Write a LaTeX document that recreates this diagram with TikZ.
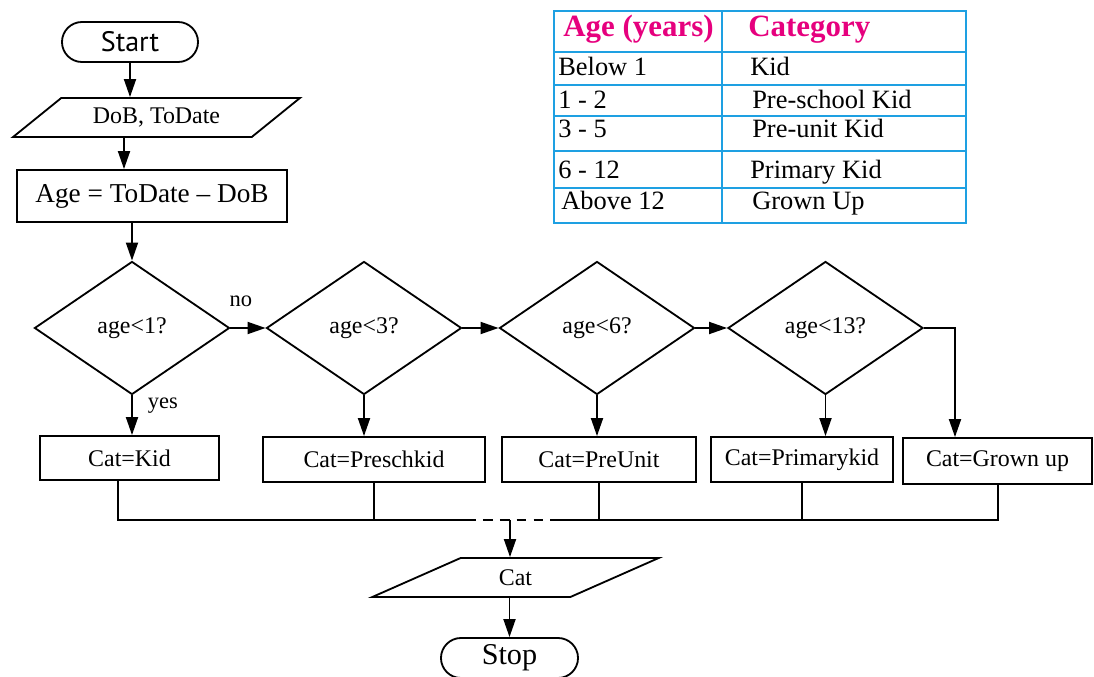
\documentclass[tikz,border=0pt]{standalone}
\usepackage{fontspec}
\setmainfont{Liberation Serif}
\newfontfamily\termfont{PT Sans}
\usetikzlibrary{arrows.meta,positioning,calc,shapes.geometric,shapes.misc}
\definecolor{tblline}{RGB}{30,160,226}
\definecolor{headpink}{RGB}{230,0,126}

\begin{document}
\begin{tikzpicture}[x=0.025cm,y=-0.025cm,>={Triangle[length=4.5mm,width=3mm]},
  flow/.style={line width=1.3pt},
  term/.style={draw,line width=1.3pt,rounded rectangle,minimum width=3.4cm,minimum height=1cm,inner sep=0pt},
  io/.style={draw,line width=1.3pt,trapezium,trapezium left angle=31,trapezium right angle=149,trapezium stretches=true,minimum width=7.175cm,minimum height=0.975cm,inner sep=0pt,font=\fontsize{17}{19}\selectfont},
  decision/.style={draw,line width=1.3pt,diamond,aspect=1.466,minimum width=4.875cm,minimum height=3.325cm,inner sep=0pt,font=\fontsize{17}{19}\selectfont},
  catbox/.style={draw,line width=1.3pt,minimum height=1.125cm,inner sep=0pt,font=\fontsize{17}{19}\selectfont},
  edgelabel/.style={inner sep=0pt,font=\fontsize{16}{18}\selectfont},
  tbl/.style={line width=2pt,tblline},
  tblhead/.style={anchor=base west,inner sep=0pt,headpink,font=\fontsize{22}{24}\selectfont\bfseries},
  tblcell/.style={anchor=base west,inner sep=0pt,font=\fontsize{18.8}{21}\selectfont}]
  \useasboundingbox (0,0) rectangle (1094,677);

  % age table
  \draw[tbl] (554,11) rectangle (966,223) (722,11) -- (722,223)
    (554,52) -- (966,52) (554,85) -- (966,85) (554,116) -- (966,116)
    (554,151) -- (966,151) (554,188) -- (966,188);
  \node[tblhead] (hage) at (563,36) {Age (years)};
  \node[tblhead] (hcat) at (748,36) {Category};
  \node[tblcell] (age1) at (558,75) {Below 1};
  \node[tblcell] (cat1) at (750,75) {Kid};
  \node[tblcell] (age2) at (558,108) {1 - 2};
  \node[tblcell] (cat2) at (752,108) {Pre-school Kid};
  \node[tblcell] (age3) at (558,137) {3 - 5};
  \node[tblcell] (cat3) at (752,137) {Pre-unit Kid};
  \node[tblcell] (age4) at (558,178) {6 - 12};
  \node[tblcell] (cat4) at (750,178) {Primary Kid};
  \node[tblcell] (age5) at (561,209) {Above 12};
  \node[tblcell] (cat5) at (752,209) {Grown Up};

  % flowchart
  \node[term,font=\termfont\fontsize{20}{22}\selectfont] (start) at (130,42) {Start};
  \node[io] (dob) at (156.5,117.5) {DoB, ToDate};
  \node[draw,line width=1.3pt,minimum width=6.75cm,minimum height=1.3cm,inner sep=0pt,font=\fontsize{19.4}{21}\selectfont] (calc) at (152,196) {Age = ToDate -- DoB};
  \coordinate (inx) at (124,0);

  \node[decision] (lt1) at (132,328) {age<1?};
  \node[decision] (lt3) at (364,328) {age<3?};
  \node[decision] (lt6) at (597,328) {age<6?};
  \node[decision] (lt13) at (825.5,328) {age<13?};
  \coordinate (turn) at (955,328);

  \node[catbox,minimum width=4.475cm,minimum height=1.1cm] (kid) at (129.5,458) {Cat=Kid};
  \node[catbox,minimum width=5.55cm] (presch) at (374,459.5) {Cat=Preschkid};
  \node[catbox,minimum width=4.85cm] (preunit) at (599,459.5) {Cat=PreUnit};
  \node[catbox,minimum width=4.55cm] (primary) at (802,459.5) {Cat=Primarykid};
  \node[catbox,minimum width=4.725cm,minimum height=1.15cm] (grown) at (997.5,461) {Cat=Grown up};

  \coordinate (busL) at (118,520);
  \coordinate (busR) at (998,520);
  \coordinate (dashL) at (466,520);
  \coordinate (dashR) at (556,520);
  \coordinate (join) at (510,520);

  \node[io] (out) at (515.5,577.5) {Cat};
  \node[term,minimum width=3.425cm,font=\fontsize{21.5}{23}\selectfont] (stop) at (509.5,658) {Stop};

  \draw[flow,->] (start.south) -- (start.south |- dob.north);
  \draw[flow,->] (inx |- dob.south) -- (inx |- calc.north);
  \draw[flow,->] (lt1.north |- calc.south) -- (lt1.north);
  \draw[flow,->] (lt1.east) -- node[edgelabel,pos=0.3,above=0.5cm] {no} (lt3.west);
  \draw[flow,->] (lt3.east) -- (lt6.west);
  \draw[flow,->] (lt6.east) -- (lt13.west);
  \draw[flow,->] (lt13.east) -- (turn) -- (turn |- grown.north);
  \draw[flow,->] (lt1.south) -- node[edgelabel,pos=0.25,right=0.375cm] {yes} (lt1.south |- kid.north);
  \draw[flow,->] (lt3.south) -- (lt3.south |- presch.north);
  \draw[flow,->] (lt6.south) -- (lt6.south |- preunit.north);
  \draw[flow,->] (lt13.south) -- (lt13.south |- primary.north);

  \draw[flow] (busL |- kid.south) -- (busL) -- (dashL);
  \draw[flow,dash pattern=on 7pt off 5pt] (dashL) -- (dashR);
  \draw[flow] (dashR) -- (busR) -- (busR |- grown.south);
  \draw[flow] (presch.south) -- (presch.south |- busL);
  \draw[flow] (preunit.south) -- (preunit.south |- busL);
  \draw[flow] (primary.south) -- (primary.south |- busL);
  \draw[flow,->] (join) -- (join |- out.north);
  \draw[flow,->] (out.south -| stop.north) -- (stop.north);
\end{tikzpicture}
\end{document}
